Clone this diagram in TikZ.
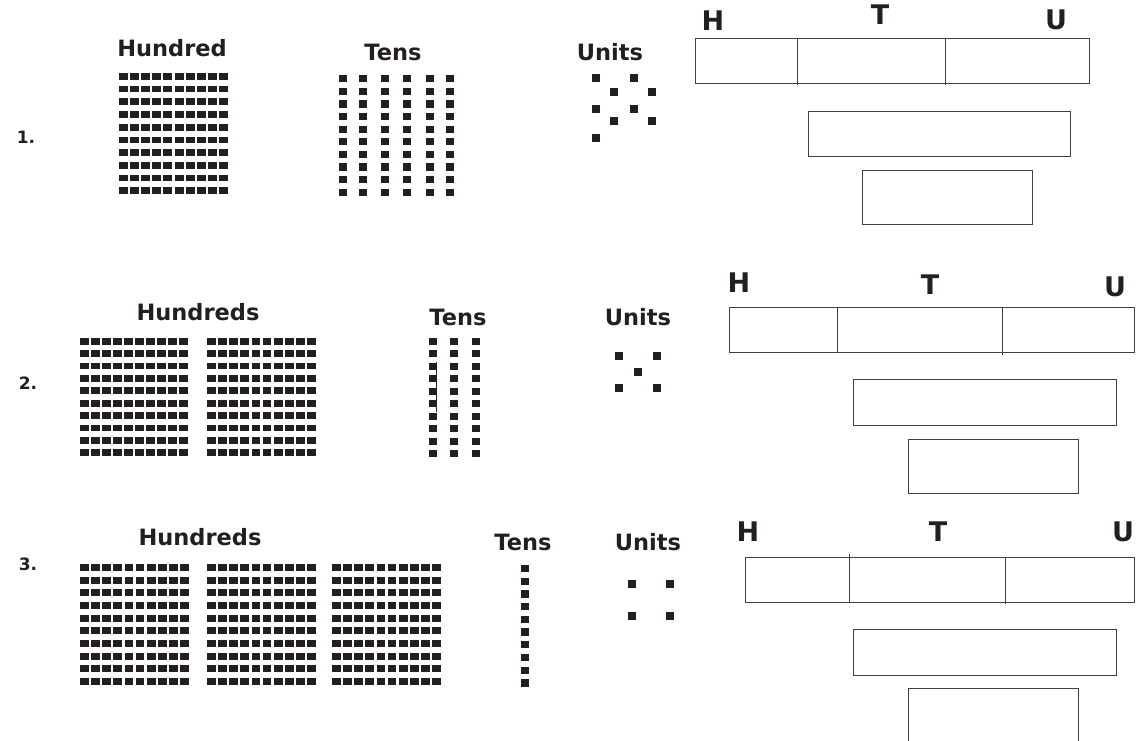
\documentclass[tikz,border=0pt]{standalone}
\usepackage{fontspec}
\setmainfont{DejaVu Sans}
\definecolor{blk}{HTML}{231F20}
\newcommand\sqgrid[8]{% x0 y0 x1 y1 w h ncols nrows
  \pgfmathsetmacro\gdx{((#3)-(#1)-(#5))/(#7-1)}%
  \pgfmathsetmacro\gdy{((#4)-(#2)-(#6))/(#8-1)}%
  \pgfmathtruncatemacro\gnc{#7-1}%
  \pgfmathtruncatemacro\gnr{#8-1}%
  \foreach \ii in {0,...,\gnc}{\foreach \jj in {0,...,\gnr}{%
    \fill[blk] ({#1+\ii*\gdx},{#2+\jj*\gdy}) rectangle ++(#5,#6);}}%
}
\newcommand\sqcol[6]{% cx y0 y1 w h n
  \pgfmathsetmacro\cdy{((#3)-(#2)-(#5))/(#6-1)}%
  \pgfmathtruncatemacro\cnr{#6-1}%
  \foreach \jj in {0,...,\cnr}{%
    \fill[blk] ({#1-(#4)/2},{#2+\jj*\cdy}) rectangle ++(#4,#5);}%
}
\newcommand\unitsq[2]{\fill[blk] ({#1-4.35},{#2-3.6}) rectangle ++(8.7,7.3);}
\begin{document}
\begin{tikzpicture}[x=1pt,y=-1pt,
  lbl/.style={font=\bfseries\fontsize{22.5}{26}\selectfont, text=blk, inner sep=0pt},
  htu/.style={font=\bfseries\fontsize{27}{30}\selectfont, text=blk, inner sep=0pt},
  num/.style={font=\bfseries\fontsize{17}{20}\selectfont, text=blk, inner sep=0pt},
  boxline/.style={draw=black!75, line width=0.9pt}]
\useasboundingbox (0,0) rectangle (1138,740);
\begin{scope}
\clip (0,0) rectangle (1138,740);
% ---------------- Row 1 ----------------
\node[num] (n1) at (26,137) {1.};
\node[lbl] (h1) at (172,48) {Hundred};
\node[lbl] (t1) at (393,52) {Tens};
\node[lbl] (u1) at (610,52) {Units};
\sqgrid{119}{73}{228}{194}{9}{6.7}{10}{10}
\foreach \cx in {343,363,385,407,430,450}{\sqcol{\cx}{75}{196}{8.7}{7.3}{10}}
\unitsq{596}{78}\unitsq{634}{78}
\unitsq{614}{92}\unitsq{652}{92}
\unitsq{596}{109}\unitsq{634}{109}
\unitsq{614}{121}\unitsq{652}{121}
\unitsq{596}{138}
\node[htu] (H1) at (713,21) {H};
\node[htu] (T1) at (880,15) {T};
\node[htu] (U1) at (1056,20) {U};
\draw[boxline] (695,38) rectangle (1089,83);
\draw[boxline] (797,38) -- (797,85);
\draw[boxline] (945,38) -- (945,85);
\draw[boxline] (808,111) rectangle (1070,156);
\draw[boxline] (862,170) rectangle (1032,224);
% ---------------- Row 2 ----------------
\node[num] (n2) at (28,383) {2.};
\node[lbl] (h2) at (198,312) {Hundreds};
\node[lbl] (t2) at (458,317) {Tens};
\node[lbl] (u2) at (638,317) {Units};
\sqgrid{80}{338}{188}{456}{8.7}{6.7}{10}{10}
\sqgrid{207}{338}{316}{456}{8.7}{6.7}{10}{10}
\foreach \cx in {433,454,476}{\sqcol{\cx}{338}{457}{8}{7}{10}}
\draw[blk, line width=1pt] (436,362) -- (436,412);
\unitsq{619}{356}\unitsq{657}{356}
\unitsq{638}{372}
\unitsq{619}{388}\unitsq{657}{388}
\node[htu] (H2) at (739,283) {H};
\node[htu] (T2) at (930,285) {T};
\node[htu] (U2) at (1115,287) {U};
\draw[boxline] (729,307) rectangle (1134,352);
\draw[boxline] (837,307) -- (837,352);
\draw[boxline] (1002,307) -- (1002,355);
\draw[boxline] (853,379) rectangle (1116,425);
\draw[boxline] (908,439) rectangle (1078,493);
% ---------------- Row 3 ----------------
\node[num] (n3) at (28,564) {3.};
\node[lbl] (h3) at (200,537) {Hundreds};
\node[lbl] (t3) at (523,542) {Tens};
\node[lbl] (u3) at (648,542) {Units};
\sqgrid{80}{564}{189}{685}{8.7}{7}{10}{10}
\sqgrid{207}{564}{316}{685}{8.7}{7}{10}{10}
\sqgrid{332}{564}{441}{685}{8.7}{7}{10}{10}
\sqcol{525}{565}{686.5}{8.7}{7.3}{10}
\unitsq{632}{584}\unitsq{670}{584}
\unitsq{632}{616}\unitsq{670}{616}
\node[htu] (H3) at (748,532) {H};
\node[htu] (T3) at (938,532) {T};
\node[htu] (U3) at (1123,532) {U};
\draw[boxline] (745,557) rectangle (1134,602);
\draw[boxline] (849,554) -- (849,602);
\draw[boxline] (1005,558) -- (1005,604);
\draw[boxline] (853,629) rectangle (1116,675);
\draw[boxline] (908,688) rectangle (1078,760);
\end{scope}
\end{tikzpicture}
\end{document}
